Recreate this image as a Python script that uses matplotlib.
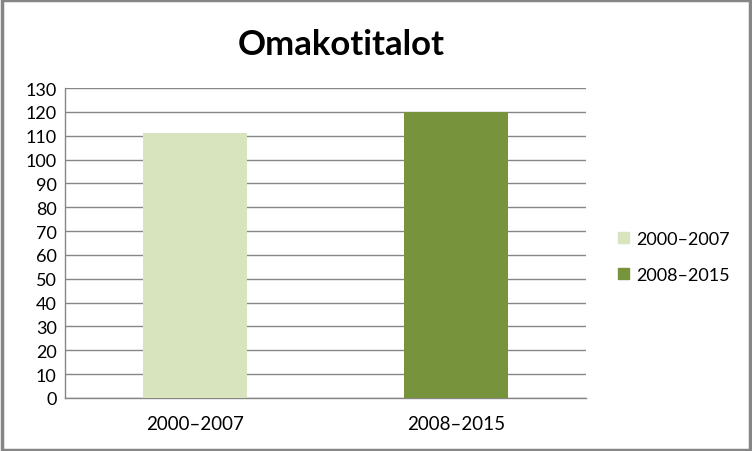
import matplotlib.pyplot as plt
import matplotlib.patches as mpatches

plt.rcParams['font.family'] = ['Lato', 'DejaVu Sans']

# Data
categories = ["2000\u20132007", "2008\u20132015"]
values = [111, 120]
colors = ["#D7E4BD", "#77933C"]
yticks = list(range(0, 131, 10))

fig = plt.figure(figsize=(7.52, 4.52), dpi=100)
ax = fig.add_axes([65 / 752, 1 - 399 / 452, 521 / 752, 310 / 452])

x = range(len(categories))
ax.bar(x, values, width=0.4, color=colors, zorder=3)

ax.set_xlim(-0.5, len(categories) - 0.5)
ax.set_ylim(0, 130)
ax.set_yticks(yticks)
ax.set_xticks(list(x))
ax.set_xticklabels(categories, fontsize=13.5)
ax.tick_params(axis='y', labelsize=13, length=0, pad=6)
ax.tick_params(axis='x', length=0, pad=12)
ax.yaxis.grid(True, color="#868686", linewidth=1, zorder=0)

for side in ['top', 'right']:
    ax.spines[side].set_visible(False)
for side in ['left', 'bottom']:
    ax.spines[side].set_color("#868686")
    ax.spines[side].set_linewidth(1)

fig.text(341 / 752, 1 - 45 / 452, "Omakotitalot", fontsize=25, fontweight='bold',
         ha='center', va='center')

handles = [mpatches.Patch(color=c, label=l) for c, l in zip(colors, categories)]
fig.legend(handles=handles, loc='center left', bbox_to_anchor=(602 / 752, 1 - 258 / 452),
           frameon=False, fontsize=13, handlelength=0.6, handleheight=0.6,
           labelspacing=1.1, handletextpad=0.4)

# outer border
fig.patches.append(mpatches.Rectangle((0.002, 0.003), 0.996, 0.994, transform=fig.transFigure,
                                      fill=False, edgecolor="#868686", linewidth=2.5))

fig.savefig("out.png", dpi=100)
